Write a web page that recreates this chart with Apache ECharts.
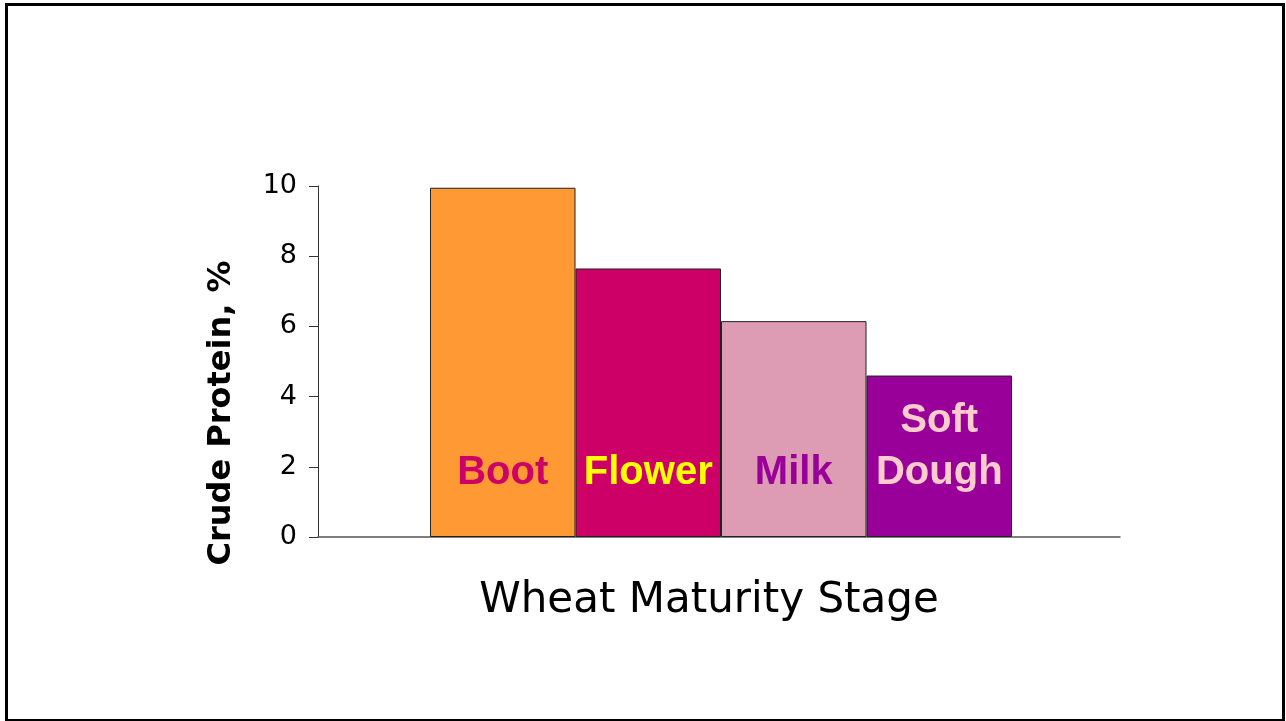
<!DOCTYPE html>
<html>
<head>
<meta charset="utf-8">
<script src="https://cdn.jsdelivr.net/npm/echarts@6/dist/echarts.min.js"></script>
<style>html,body{margin:0;padding:0;background:#fff;}#c{width:1286px;height:721px;}</style>
</head>
<body>
<div id="c"></div>
<script>
const categories = ['Boot', 'Flower', 'Milk', 'Soft\nDough'];
const values = [9.95, 7.65, 6.15, 4.6];
const barColors = ['#FF9933', '#CC0066', '#DE9BB4', '#990099'];
const labelColors = ['#CC0066', '#FFFF00', '#990099', '#FFCCCC'];
const yTicks = [0, 2, 4, 6, 8, 10];
const xTitle = 'Wheat Maturity Stage';
const yTitle = 'Crude Protein, %';

const chart = echarts.init(document.getElementById('c'), null, {renderer: 'canvas'});
const option = {
  animation: false,
  backgroundColor: '#fff',
  grid: [
    {left: 318, right: 166, top: 186, bottom: 184},
    {left: 430, right: 274, top: 186, bottom: 184}
  ],
  xAxis: [
    {gridIndex: 0, type: 'value', min: 0, max: 1,
     axisLine: {show: true, onZero: false, lineStyle: {color: '#555', width: 1.5}},
     axisTick: {show: false}, axisLabel: {show: false}, splitLine: {show: false}},
    {gridIndex: 1, type: 'category', data: categories,
     axisLine: {show: false}, axisTick: {show: false}, axisLabel: {show: false}}
  ],
  yAxis: [
    {gridIndex: 0, type: 'value', min: yTicks[0], max: yTicks[yTicks.length - 1], interval: 2,
     axisLine: {show: true, lineStyle: {color: '#333', width: 1}},
     axisTick: {show: true, inside: false, length: 9, lineStyle: {color: '#333'}},
     axisLabel: {margin: 21, color: '#000', fontSize: 27, fontFamily: 'DejaVu Sans'},
     splitLine: {show: false}},
    {gridIndex: 1, type: 'value', min: yTicks[0], max: yTicks[yTicks.length - 1], show: false}
  ],
  series: [{
    type: 'bar',
    xAxisIndex: 1, yAxisIndex: 1,
    barWidth: '100%',
    data: values.map((v, i) => ({
      value: v,
      itemStyle: {color: barColors[i], borderColor: '#222', borderWidth: 1},
      label: {color: labelColors[i]}
    })),
    label: {
      show: true, position: 'insideBottom', distance: 38,
      formatter: p => categories[p.dataIndex],
      fontFamily: 'Liberation Sans', fontWeight: 'bold', fontSize: 40, lineHeight: 52
    }
  }],
  graphic: [
    {type: 'rect', shape: {x: 6.5, y: 4.5, width: 1277, height: 716}, style: {fill: 'none', stroke: '#000', lineWidth: 3}, silent: true},
    {type: 'text', x: 709, y: 601, style: {text: xTitle, fontFamily: 'DejaVu Sans', fontSize: 42, fill: '#000', textAlign: 'center', textVerticalAlign: 'middle'}},
    {type: 'text', x: 222, y: 413, rotation: Math.PI / 2, style: {text: yTitle, fontFamily: 'DejaVu Sans', fontWeight: 'bold', fontSize: 32, fill: '#000', textAlign: 'center', textVerticalAlign: 'middle'}}
  ]
};
chart.setOption(option);
</script>
</body>
</html>
